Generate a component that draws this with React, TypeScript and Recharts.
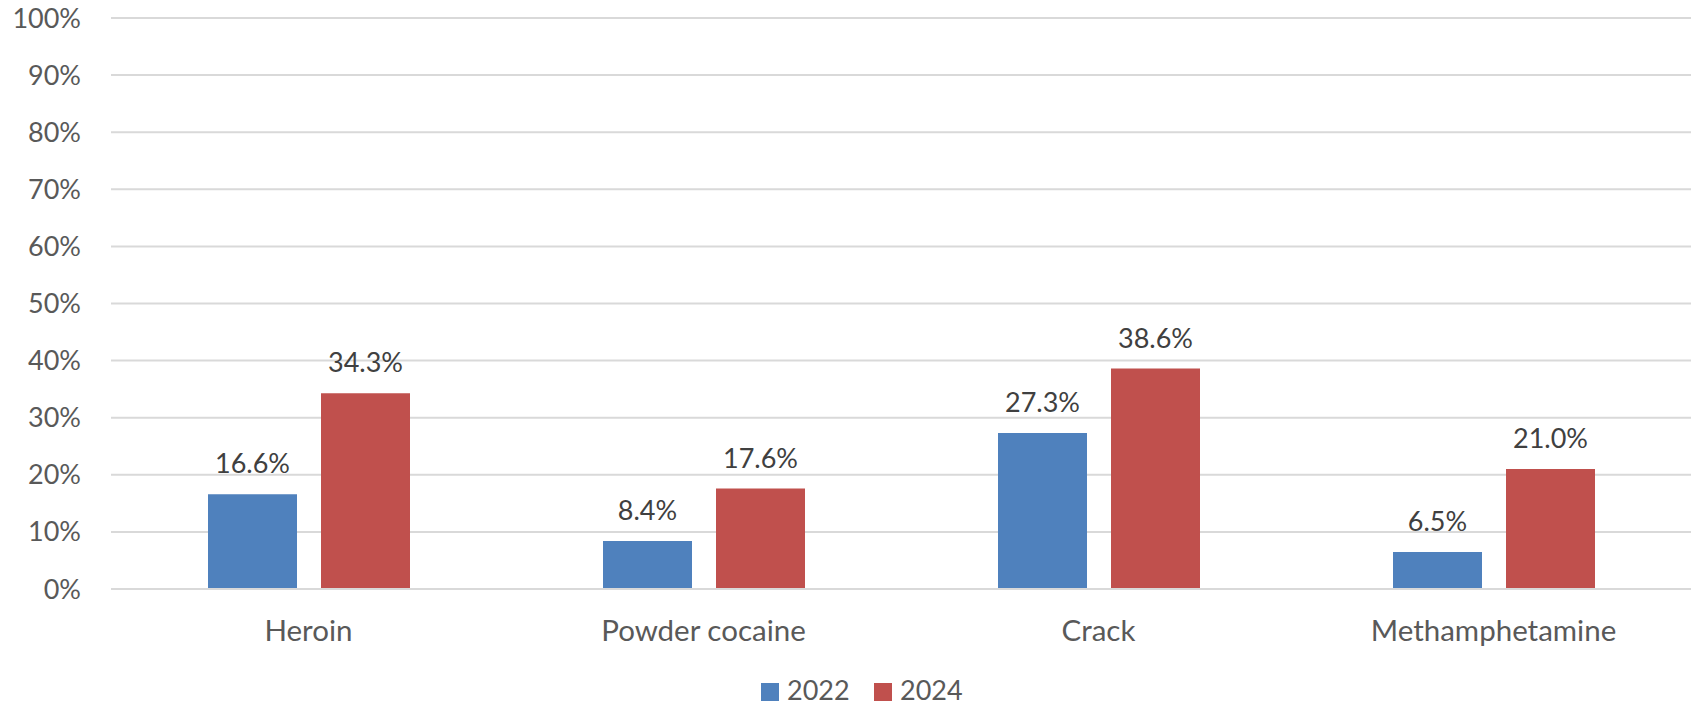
import { Bar, BarChart, CartesianGrid, LabelList, Legend, XAxis, YAxis } from "recharts"

const drugs = ['Heroin', 'Powder cocaine', 'Crack', 'Methamphetamine']
const share2022 = [16.6, 8.4, 27.3, 6.5]
const share2024 = [34.3, 17.6, 38.6, 21.0]
const yTicks = [0, 10, 20, 30, 40, 50, 60, 70, 80, 90, 100]

const BLUE = '#4F81BD'
const RED = '#C0504D'
const FONT = 'Lato, "Open Sans", sans-serif'

const data = drugs.map((name, i) => ({
  name,
  y2022: share2022[i],
  y2024: share2024[i],
}))

const pct = (v: number) => `${v.toFixed(1)}%`

function LegendRow() {
  return (
    <svg width={1696} height={40} style={{ display: 'block' }}>
      <rect x={761} y={17} width={18} height={18} fill={BLUE} />
      <text x={787} y={34} fontSize={27} fill="#595959" fontFamily={FONT}>2022</text>
      <rect x={874} y={17} width={18} height={18} fill={RED} />
      <text x={900} y={34} fontSize={27} fill="#595959" fontFamily={FONT}>2024</text>
    </svg>
  )
}

export default function App() {
  return (
    <div style={{ position: 'absolute', left: 0, top: 0, background: '#fff' }}>
      <BarChart
        width={1696}
        height={706}
        data={data}
        margin={{ top: 18, right: 5, left: 0, bottom: 0 }}
        barGap={24}
        barSize={89}
      >
        <CartesianGrid vertical={false} stroke="#D9D9D9" strokeWidth={2} />
        <XAxis
          dataKey="name"
          axisLine={{ stroke: '#D9D9D9', strokeWidth: 2 }}
          tickLine={false}
          tickMargin={25}
          height={77}
          tick={{ fill: '#595959', fontSize: 29.5, fontFamily: FONT }}
        />
        <YAxis
          domain={[0, 100]}
          ticks={yTicks}
          width={111}
          axisLine={false}
          tickLine={false}
          tickMargin={24}
          tickFormatter={(v: number) => `${v}%`}
          tick={{ fill: '#595959', fontSize: 27, fontFamily: FONT }}
        />
        <Legend
          verticalAlign="bottom"
          content={() => <LegendRow />}
          wrapperStyle={{ left: 0, bottom: 0, width: 1696, height: 40 }}
        />
        <Bar dataKey="y2022" name="2022" fill={BLUE} isAnimationActive={false}>
          <LabelList
            dataKey="y2022"
            position="top"
            offset={21}
            formatter={(v: number) => pct(v)}
            fill="#404040"
            fontSize={27}
            fontFamily={FONT}
          />
        </Bar>
        <Bar dataKey="y2024" name="2024" fill={RED} isAnimationActive={false}>
          <LabelList
            dataKey="y2024"
            position="top"
            offset={21}
            formatter={(v: number) => pct(v)}
            fill="#404040"
            fontSize={27}
            fontFamily={FONT}
          />
        </Bar>
      </BarChart>
    </div>
  )
}
